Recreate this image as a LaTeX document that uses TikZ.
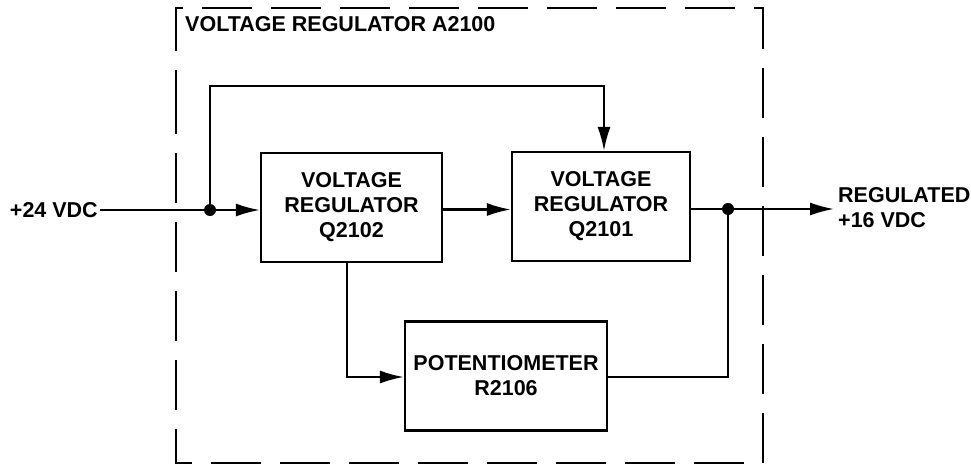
\documentclass[tikz,border=0pt]{standalone}
\usepackage{fontspec}
\setmainfont{Liberation Sans}
\usetikzlibrary{arrows.meta}
\begin{document}
\begin{tikzpicture}[x=1pt,y=-1pt,
  every node/.style={font=\bfseries\fontsize{21.5}{25}\selectfont},
  blk/.style={draw,line width=2.2pt,inner sep=0pt,align=center,minimum height=109pt},
  wire/.style={line width=2.2pt},
  arr/.style={wire,-{Latex[length=24pt,width=13pt]}},
  dot/.style={circle,fill,inner sep=0pt,minimum size=12pt},
  frame/.style={line width=2.2pt,dash pattern=on 50pt off 19pt}]
\useasboundingbox (0,0) rectangle (971,466);
% frame
\draw[frame] (176,120) -- (176,8) -- (763,8) -- (763,463) -- (176,463) -- cycle;
\node[anchor=west,inner sep=0pt] (title) at (185,24) {VOLTAGE REGULATOR A2100};
% blocks
\node[blk,minimum width=181pt] (q2102) at (351.5,207.5) {VOLTAGE\\REGULATOR\\Q2102};
\node[blk,minimum width=178pt] (q2101) at (601,206.5) {VOLTAGE\\REGULATOR\\Q2101};
\node[blk,minimum width=202pt] (pot) at (506,376) {POTENTIOMETER\\R2106};
% labels
\node[anchor=east,inner sep=0pt] (in) at (98,210) {+24 VDC};
\node[anchor=west,inner sep=0pt,align=left] (outl) at (838,208) {REGULATED\\+16 VDC};
% coordinates
\coordinate (inp) at (100,210);
\node[dot] (j1) at (210,210) {};
\node[dot] (j2) at (728,209) {};
\coordinate (top) at (604,86);
\coordinate (out) at (834,209);
\coordinate (fb) at (347,377);
\coordinate (mid) at (442,209.5);
% connectors
\draw[wire] (inp) -- (j1);
\draw[arr] (j1) -- (q2102.west |- j1);
\draw[arr] (j1) |- (top) -- (top |- q2101.north);
\draw[arr] (mid) -- (q2101.west |- mid);
\draw[wire] (q2101.east |- j2) -- (j2);
\draw[arr] (j2) -- (out);
\draw[arr] (fb |- q2102.south) -- (fb) -- (pot.west |- fb);
\draw[wire] (pot.east |- fb) -| (j2);
\end{tikzpicture}
\end{document}
